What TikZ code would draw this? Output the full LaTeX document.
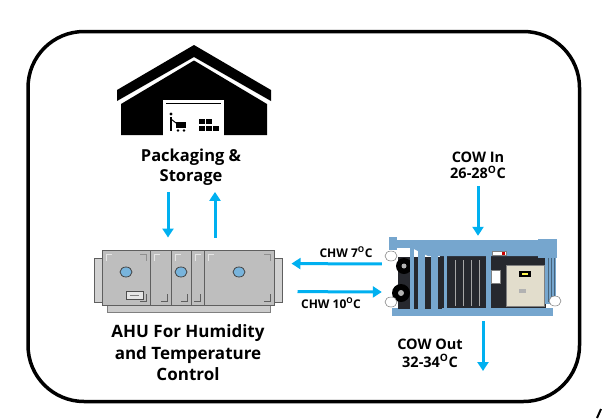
\documentclass[tikz,border=0pt]{standalone}
\usepackage{fontspec}
\setmainfont{Open Sans}
\usetikzlibrary{arrows.meta,positioning}
\definecolor{flowblue}{RGB}{0,176,240}
\definecolor{ahugray}{RGB}{190,190,190}
\definecolor{ahuline}{RGB}{95,95,95}
\definecolor{portblue}{RGB}{120,180,220}
\definecolor{chblue}{RGB}{118,166,206}
\definecolor{chdark}{RGB}{38,40,46}
\definecolor{cabinet}{RGB}{226,221,204}

\begin{document}
\begin{tikzpicture}[x=1pt,y=-1pt,inner sep=1pt]
       \tikzstyle{flow}=[draw=flowblue,line width=3pt,-{Triangle[width=11pt,length=9pt]}]
       \tikzstyle{biglbl}=[font=\bfseries\fontsize{16.5}{20}\selectfont,align=center]
       \tikzstyle{midlbl}=[font=\bfseries\fontsize{14.5}{16.5}\selectfont,align=center]
       \tikzstyle{smalllbl}=[font=\bfseries\fontsize{12}{14}\selectfont]
       \tikzstyle{ahubox}=[draw=ahuline,fill=ahugray,line width=1pt,minimum width=172pt,minimum height=55pt,inner sep=0pt]

       \useasboundingbox (0,0) rectangle (602,418);
       \draw[line width=3.5pt,rounded corners=56pt] (28,31.5) rectangle (579.5,401.5);
       \draw[line width=2pt] (597,418) -- (601,409);

       % warehouse
       \fill (117,90) -- (194,45) -- (271,90) -- (271,101) -- (194,57) -- (117,101) -- cycle;
       \fill (121,104) -- (194,60.5) -- (267,104) -- (267,135) -- (121,135) -- cycle;
       \fill[white] (163,100) rectangle (224,135.5);
       \draw[line width=1.5pt] (166,103.5) -- (221,103.5);
       \fill (171,114) circle (1.6);
       \draw[line width=1.3pt] (171,117) -- (171,131);
       \draw[line width=1pt] (171,119) -- (176,123);
       \fill (176,122) rectangle (186,128);
       \fill (178,130.5) circle (1.3) (184,130.5) circle (1.3);
       \foreach \bx/\by in {199/119,206/119,199/125.5,206/125.5,213/126}
         \fill (\bx,\by) rectangle +(6,5);
       \node[biglbl,anchor=north] (pack) at (191,148) {Packaging \&\\Storage};

       % air handling unit
       \filldraw[fill=ahugray!70!white,draw=ahuline,line width=0.8pt] (94,258) rectangle (102,302) (274,258) rectangle (282,302);
       \filldraw[fill=ahugray!80!white,draw=ahuline!80,line width=0.8pt] (107,305) rectangle (270,312);
       \node[ahubox] (ahu) at (188,277.5) {};
       \foreach \dx in {150,171,191,204}
         \draw[ahuline,line width=1pt] (\dx,250) -- (\dx,305);
       \foreach \pa/\pb in {102/150,150/171,171/191,191/204,204/274}{
         \draw[white!80!gray,line width=0.8pt] ({\pa+4},261) -- ({\pa+4},254) -- ({\pa+10},254);
         \draw[ahuline,line width=0.8pt] ({\pb-4},294) -- ({\pb-4},301) -- ({\pb-10},301);
       }
       \foreach \pa/\pb in {102/150,204/274}
         \draw[ahuline!70,line width=0.8pt] ({\pb-10},254) -- ({\pb-4},254) -- ({\pb-4},261);
       \foreach \px in {126,181,239}
         \filldraw[fill=portblue,draw=ahuline!70!black,line width=0.8pt] (\px,272) ellipse (6 and 5);
       \filldraw[fill=gray!20,draw=gray!60!black,line width=0.6pt] (126,291) rectangle (143,299);
       \draw[gray,line width=0.5pt] (130,295) -- (139,295);
       \node[biglbl,font=\bfseries\fontsize{17}{21.5}\selectfont,below=18pt of ahu] (ahutext) {AHU For Humidity\\and Temperature\\Control};

       % absorption chiller
       \node[minimum width=179pt,minimum height=84pt,inner sep=0pt] (chiller) at (473.5,278) {};
       \fill[chblue] (392,308) rectangle (553,316);
       \fill[chdark] (398,257) rectangle (442,309);
       \fill[black] (404,266) circle (8);
       \fill[black] (401,293) circle (9);
       \fill[gray!60] (404,266) circle (2.5) (401,293) circle (3);
       \fill[chdark] (440,255) rectangle (546,308);
       \fill[chblue] (396,240) rectangle (545,248);
       \fill[chblue] (412,248) -- (540,248) -- (540,256) -- (428,256) -- cycle;
       \fill[chblue] (538,239) rectangle (557,258);
       \fill[chblue] (389,237) rectangle (397,250);
       \foreach \cx/\cw in {418/7,431/7,444/3,486/5,410/4}
         \fill[chblue] (\cx,244) rectangle +(\cw,72);
       \fill[chblue] (545,256) rectangle (556,304);
       \foreach \tx in {548,551,554}
         \draw[chblue!60!black,line width=0.5pt] (\tx,258) -- (\tx,302);
       \foreach \tx in {455,463,471,479}
         \draw[gray!70,line width=1pt] (\tx,260) -- (\tx,306);
       \filldraw[fill=white,draw=gray,line width=0.4pt] (492,251) rectangle (506,255);
       \fill[red!80!black] (502,251.5) rectangle (505,254.5);
       \filldraw[fill=cabinet,draw=gray,line width=0.6pt] (506,265) rectangle (544,306);
       \fill[black] (519,271) rectangle (531,277);
       \fill[yellow!70] (522,273) rectangle (528,275);
       \fill[gray!60] (519,289) rectangle (526,293);
       \filldraw[fill=white,draw=gray,line width=0.5pt] (491,270) rectangle (500,283);
       \filldraw[fill=white,draw=gray,line width=0.5pt] (391,256) ellipse (6 and 5) (391,302) ellipse (6 and 5) (555,301) ellipse (6 and 5);
       \node[midlbl,anchor=north] (cowin) at (478,150.5) {COW In\\26-28\textsuperscript{O}C};
       \node[midlbl,font=\bfseries\fontsize{14.5}{17.5}\selectfont,anchor=north] (cowout) at (430,338) {COW Out\\32-34\textsuperscript{O}C};
       \coordinate (cowend) at (483,371);
       \node[smalllbl,anchor=base] (chwsup) at (346,257) {CHW 7\textsuperscript{O}C};
       \node[smalllbl,anchor=base] (chwret) at (331,308) {CHW 10\textsuperscript{O}C};

       \draw[flow,shorten <=5pt,shorten >=12pt] ([xshift=-23pt]pack.south) -- ([xshift=-20pt]ahu.north);
       \draw[flow,shorten <=12pt,shorten >=5pt] ([xshift=27pt]ahu.north) -- ([xshift=24pt]pack.south);
       \draw[flow,shorten <=2pt,shorten >=17pt] ([yshift=14pt]chiller.west) -- ([yshift=14pt]ahu.east);
       \draw[flow,shorten <=23pt,shorten >=2pt] ([yshift=-14pt]ahu.east) -- ([yshift=-14pt]chiller.west);
       \draw[flow,shorten <=6pt] (cowin.south) -- (cowin.south |- chiller.north);
       \draw[flow,shorten <=1pt] (chiller.south -| cowend) -- (cowend);
     \end{tikzpicture}
\end{document}
